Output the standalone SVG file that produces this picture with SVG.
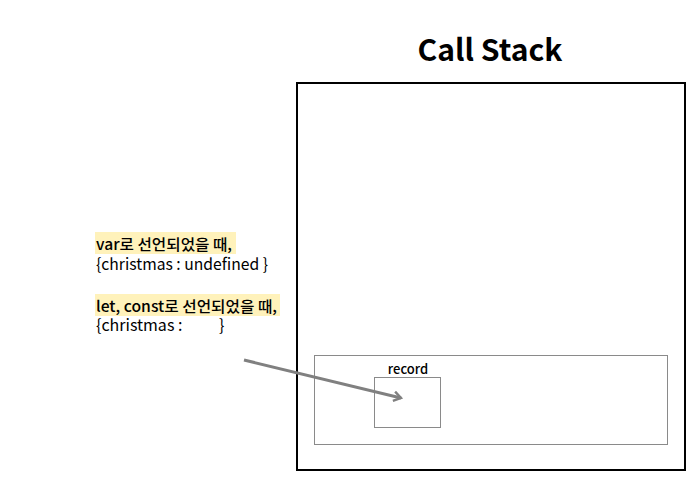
<svg xmlns="http://www.w3.org/2000/svg" width="700" height="500" viewBox="0 0 700 500">
<style>
text{font-family:"Noto Sans CJK KR","Noto Sans",sans-serif;fill:#000}
.h{font-size:15px;font-weight:500}
.t{font-size:16px}
.hl{fill:#fff2bb}
.g{fill:none;stroke:#8a8a8a;stroke-width:1}
</style>
<defs>
<marker id="ah" viewBox="0 0 10 10" refX="7" refY="5" markerWidth="4" markerHeight="4" orient="auto" markerUnits="strokeWidth">
<path d="M1,1 L7,5 L1,9" fill="none" stroke="#808080" stroke-width="2"/>
</marker>
</defs>
<rect width="700" height="500" fill="#fff"/>
<g id="title"><text x="490" y="61" font-size="30" font-weight="bold" text-anchor="middle" textLength="145" lengthAdjust="spacingAndGlyphs">Call Stack</text></g>
<g id="callstack"><rect x="297" y="83" width="388" height="387" fill="none" stroke="#000" stroke-width="2"/></g>
<g id="frame"><rect class="g" x="314.5" y="355.5" width="353" height="89"/></g>
<g id="record"><rect class="g" x="374.5" y="377.5" width="66" height="50"/><text x="408" y="374" font-size="13" font-weight="500" text-anchor="middle">record</text></g>
<g id="note-var">
<rect class="hl" x="95" y="232" width="141" height="22"/>
<text class="h" x="96" y="250" textLength="136" lengthAdjust="spacingAndGlyphs">var로 선언되었을 때,</text>
<text class="t" x="96" y="270" textLength="172" lengthAdjust="spacingAndGlyphs">{christmas : undefined }</text>
</g>
<g id="note-let">
<rect class="hl" x="95" y="294" width="185" height="22"/>
<text class="h" x="96" y="312" textLength="181" lengthAdjust="spacingAndGlyphs">let, const로 선언되었을 때,</text>
<text class="t" x="96" y="331">{christmas :</text>
<text class="t" x="219" y="331">}</text>
</g>
<g id="connectors">
<line x1="244" y1="360" x2="401" y2="398" stroke="#808080" stroke-width="3" marker-end="url(#ah)"/>
</g>
</svg>
